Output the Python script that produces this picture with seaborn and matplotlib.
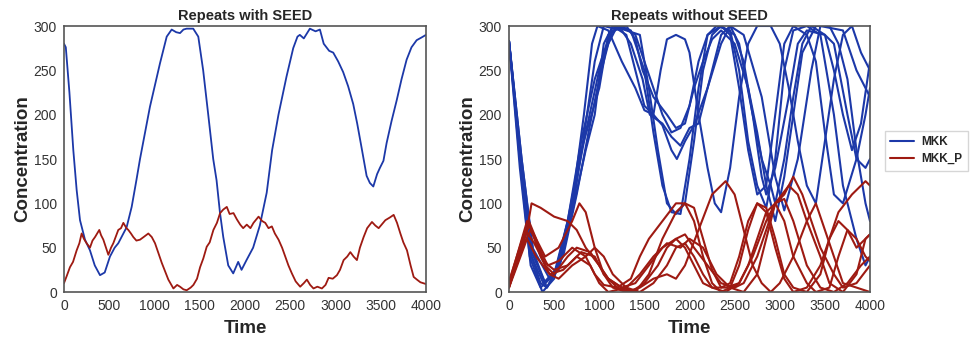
import matplotlib
matplotlib.use("Agg")
import matplotlib.pyplot as plt
from matplotlib.lines import Line2D
import seaborn as sns
import pandas as pd

# (time, concentration) pairs
seed_mkk = [(0, 280), (20, 276), (60, 225), (103, 160), (140, 115), (177, 81), (232, 59),
            (287, 47), (340, 30), (398, 19), (450, 22), (508, 40), (560, 50), (600, 55),
            (692, 73), (748, 96), (800, 126), (840, 150), (950, 209), (1061, 258), (1135, 288),
            (1190, 296), (1240, 293), (1282, 292), (1320, 296), (1355, 297), (1428, 297),
            (1484, 288), (1538, 250), (1594, 200), (1649, 150), (1686, 126), (1723, 90),
            (1760, 62), (1815, 30), (1870, 21), (1925, 34), (1962, 25), (2017, 36), (2090, 50),
            (2164, 75), (2240, 112), (2300, 160), (2370, 200), (2459, 243), (2533, 275),
            (2580, 288), (2606, 290), (2650, 286), (2717, 297), (2780, 294), (2828, 296),
            (2870, 280), (2930, 272), (2975, 270), (3030, 260), (3085, 248), (3140, 232),
            (3196, 212), (3240, 190), (3288, 163), (3344, 131), (3380, 123), (3418, 119),
            (3460, 133), (3491, 140), (3530, 148), (3565, 168), (3620, 193), (3676, 216),
            (3730, 240), (3786, 262), (3840, 276), (3897, 284), (3950, 287), (4000, 290)]

seed_mkk_p = [(0, 10), (30, 18), (66, 28), (100, 34), (140, 47), (170, 55), (195, 66), (220, 60),
              (250, 55), (287, 50), (315, 58), (343, 62), (390, 70), (410, 64), (435, 59),
              (490, 42), (520, 50), (545, 55), (600, 70), (630, 72), (656, 78), (690, 72),
              (711, 70), (740, 66), (766, 62), (800, 58), (840, 59), (880, 62), (932, 66),
              (970, 62), (1006, 55), (1080, 33), (1153, 14), (1209, 4), (1250, 8), (1282, 6),
              (1320, 3), (1356, 2), (1400, 5), (1430, 8), (1470, 15), (1504, 28), (1540, 38),
              (1577, 51), (1610, 56), (1651, 70), (1690, 78), (1725, 89), (1760, 93), (1799, 96),
              (1830, 88), (1873, 89), (1910, 82), (1947, 76), (1980, 72), (2020, 76), (2060, 72),
              (2094, 78), (2150, 85), (2190, 80), (2224, 78), (2260, 72), (2297, 74), (2330, 66),
              (2371, 59), (2410, 50), (2445, 40), (2480, 30), (2518, 21), (2560, 12), (2610, 6),
              (2650, 10), (2684, 14), (2720, 8), (2757, 4), (2800, 6), (2850, 4), (2890, 8),
              (2924, 16), (2970, 15), (3016, 19), (3050, 25), (3090, 36), (3130, 40), (3164, 45),
              (3200, 40), (3237, 36), (3270, 50), (3311, 62), (3350, 72), (3403, 79), (3440, 75),
              (3477, 72), (3510, 76), (3551, 81), (3600, 84), (3643, 87), (3680, 78), (3717, 66),
              (3750, 56), (3790, 47), (3830, 30), (3864, 17), (3900, 14), (3938, 11), (4000, 9)]

# right panel: seven repeats, (time, concentration) pairs
rep_mkk = [
    [(0, 283), (130, 150), (250, 40), (350, 10), (420, 5), (550, 30), (700, 100), (830, 200),
     (920, 280), (980, 300), (1100, 295), (1250, 260), (1400, 230), (1500, 205), (1600, 200),
     (1700, 188), (1800, 160), (1860, 150), (1950, 170), (2050, 188), (2200, 230), (2350, 280),
     (2450, 300), (2600, 290), (2800, 220), (2950, 130), (3050, 92), (3200, 150), (3350, 250),
     (3450, 300), (3700, 295), (3850, 250), (4000, 220)],
    [(0, 283), (120, 160), (250, 45), (400, 10), (550, 25), (700, 90), (850, 190), (950, 260),
     (1050, 300), (1250, 295), (1350, 280), (1480, 240), (1560, 200), (1700, 190), (1800, 175),
     (1900, 165), (2000, 185), (2100, 190), (2250, 250), (2350, 290), (2450, 300), (2550, 280),
     (2700, 200), (2800, 130), (2850, 110), (2950, 140), (3100, 220), (3200, 280), (3300, 295),
     (3500, 290), (3600, 280), (3750, 200), (3850, 150), (3950, 140), (4000, 150)],
    [(0, 283), (140, 150), (260, 50), (450, 15), (600, 40), (750, 110), (900, 190), (1000, 240),
     (1100, 280), (1200, 300), (1350, 295), (1500, 250), (1600, 180), (1700, 120), (1800, 90),
     (1900, 88), (2000, 150), (2100, 230), (2200, 290), (2300, 300), (2450, 295), (2550, 250),
     (2650, 170), (2750, 120), (2850, 95), (2950, 150), (3050, 250), (3150, 295), (3300, 300),
     (3450, 290), (3600, 200), (3700, 120), (3850, 60), (3950, 30), (4000, 40)],
    [(0, 283), (120, 140), (240, 30), (350, 5), (500, 20), (650, 80), (800, 170), (950, 240),
     (1050, 270), (1150, 300), (1300, 290), (1400, 250), (1500, 210), (1600, 200), (1680, 250),
     (1750, 285), (1850, 290), (1950, 285), (2000, 270), (2100, 200), (2200, 140), (2280, 100),
     (2350, 90), (2450, 140), (2550, 220), (2650, 280), (2750, 300), (2900, 300), (3000, 280),
     (3100, 230), (3200, 170), (3300, 120), (3400, 100), (3500, 170), (3600, 240), (3700, 290),
     (3800, 300), (3900, 270), (4000, 250)],
    [(0, 283), (130, 150), (250, 40), (380, 10), (520, 25), (680, 90), (850, 180), (1000, 250),
     (1150, 295), (1300, 300), (1400, 285), (1480, 250), (1600, 220), (1750, 200), (1850, 185),
     (1950, 190), (2050, 230), (2150, 260), (2250, 285), (2350, 295), (2500, 280), (2650, 230),
     (2750, 180), (2850, 120), (2950, 80), (3050, 130), (3150, 200), (3250, 270), (3400, 300),
     (3550, 300), (3650, 280), (3750, 240), (3850, 160), (3950, 100), (4000, 80)],
    [(0, 283), (110, 160), (230, 40), (370, 0), (500, 15), (650, 80), (800, 160), (1000, 230),
     (1100, 290), (1250, 300), (1400, 290), (1500, 260), (1600, 230), (1700, 200), (1800, 180),
     (1900, 185), (2000, 210), (2100, 260), (2200, 290), (2350, 300), (2500, 290), (2600, 260),
     (2700, 200), (2800, 150), (2900, 120), (2950, 100), (3050, 150), (3150, 220), (3250, 280),
     (3350, 300), (3500, 290), (3600, 250), (3700, 200), (3800, 160), (3900, 190), (4000, 260)],
    [(0, 283), (140, 150), (270, 45), (420, 5), (560, 30), (700, 90), (850, 160), (950, 200),
     (1050, 280), (1150, 300), (1300, 295), (1450, 290), (1550, 230), (1650, 160), (1750, 100),
     (1850, 88), (1950, 100), (2050, 170), (2150, 250), (2250, 290), (2350, 300), (2450, 290),
     (2550, 230), (2650, 160), (2750, 110), (2850, 120), (2950, 200), (3050, 280), (3150, 300),
     (3300, 290), (3400, 260), (3500, 180), (3600, 110), (3700, 100), (3850, 150), (3950, 200),
     (4000, 230)],
]

rep_mkk_p = [
    [(0, 5), (150, 60), (230, 75), (350, 40), (450, 20), (600, 25), (750, 40), (900, 30),
     (1000, 10), (1100, 0), (1300, 5), (1450, 20), (1600, 40), (1750, 55), (1900, 50), (2000, 60),
     (2150, 50), (2300, 20), (2450, 5), (2600, 0), (2750, 20), (2850, 60), (2950, 100),
     (3050, 105), (3150, 80), (3300, 30), (3450, 5), (3600, 0), (3750, 10), (3900, 30), (4000, 40)],
    [(0, 10), (200, 80), (300, 60), (400, 30), (500, 20), (650, 40), (750, 50), (900, 45),
     (1000, 30), (1100, 15), (1250, 5), (1400, 10), (1550, 30), (1700, 50), (1850, 60), (1950, 65),
     (2050, 50), (2200, 30), (2350, 10), (2500, 5), (2600, 10), (2750, 40), (2850, 70), (2950, 100),
     (3050, 110), (3150, 130), (3250, 110), (3350, 80), (3450, 50), (3600, 20), (3700, 5),
     (3850, 10), (4000, 30)],
    [(0, 5), (200, 70), (250, 100), (350, 95), (500, 85), (650, 80), (750, 70), (850, 50),
     (1000, 30), (1100, 15), (1250, 5), (1400, 0), (1550, 20), (1700, 60), (1850, 90), (1950, 100),
     (2050, 95), (2150, 60), (2250, 25), (2350, 5), (2450, 10), (2550, 40), (2650, 80), (2750, 100),
     (2850, 95), (2950, 60), (3050, 20), (3150, 5), (3300, 0), (3450, 20), (3550, 60), (3650, 90),
     (3800, 110), (3950, 125), (4000, 120)],
    [(0, 8), (150, 50), (220, 80), (300, 60), (400, 40), (550, 50), (700, 80), (780, 100),
     (850, 90), (950, 50), (1050, 20), (1150, 5), (1300, 0), (1450, 5), (1600, 15), (1750, 20),
     (1850, 15), (1950, 30), (2100, 70), (2250, 110), (2400, 125), (2500, 110), (2600, 70),
     (2700, 30), (2800, 10), (2900, 0), (3000, 10), (3150, 40), (3300, 80), (3400, 100),
     (3500, 70), (3600, 40), (3700, 10), (3850, 5), (4000, 0)],
    [(0, 5), (200, 60), (300, 40), (450, 20), (550, 15), (700, 30), (850, 40), (950, 50),
     (1050, 40), (1150, 20), (1300, 5), (1450, 0), (1600, 10), (1750, 30), (1850, 50), (1950, 55),
     (2050, 40), (2150, 20), (2250, 5), (2400, 0), (2550, 10), (2700, 40), (2850, 80), (2950, 100),
     (3100, 120), (3200, 110), (3300, 80), (3450, 40), (3550, 10), (3700, 0), (3850, 20),
     (3950, 60), (4000, 65)],
    [(0, 12), (180, 70), (280, 55), (380, 35), (500, 25), (650, 30), (800, 45), (950, 40),
     (1050, 20), (1200, 5), (1350, 0), (1500, 10), (1650, 30), (1750, 50), (1850, 60), (1950, 50),
     (2050, 30), (2150, 10), (2250, 5), (2400, 5), (2550, 10), (2650, 30), (2750, 60), (2850, 90),
     (2950, 100), (3050, 80), (3150, 40), (3300, 10), (3400, 0), (3550, 5), (3650, 40),
     (3750, 70), (3850, 60), (3950, 40), (4000, 35)],
    [(0, 6), (170, 55), (240, 70), (330, 50), (430, 30), (550, 35), (700, 50), (850, 40),
     (950, 20), (1050, 8), (1200, 5), (1350, 15), (1450, 40), (1550, 60), (1700, 80), (1850, 100),
     (1950, 100), (2050, 80), (2150, 40), (2250, 10), (2350, 0), (2450, 5), (2550, 30), (2650, 70),
     (2750, 100), (2850, 90), (2950, 50), (3050, 15), (3150, 0), (3300, 5), (3450, 30),
     (3550, 60), (3650, 80), (3750, 70), (3850, 50), (3950, 60), (4000, 65)],
]


def to_frame(curves, species):
    rows = []
    for i, curve in enumerate(curves):
        for t, c in curve:
            rows.append({"Time": t, "Concentration": c, "species": species, "repeat": i})
    return pd.DataFrame(rows)


df_seed = pd.concat([to_frame([seed_mkk], "MKK"), to_frame([seed_mkk_p], "MKK_P")], ignore_index=True)
df_rep = pd.concat([to_frame(rep_mkk, "MKK"), to_frame(rep_mkk_p, "MKK_P")], ignore_index=True)

sns.set_theme(style="white")
plt.rcParams["font.family"] = ["Liberation Sans", "DejaVu Sans"]

palette = {"MKK": "#1c38a8", "MKK_P": "#9e1a12"}

fig = plt.figure(figsize=(9.71, 3.39), dpi=100)
ax1 = fig.add_axes([0.0659, 0.1386, 0.3728, 0.7847])
ax2 = fig.add_axes([0.5242, 0.1386, 0.3718, 0.7847])

for ax, df, title, lw in [(ax1, df_seed, "Repeats with SEED", 1.3),
                          (ax2, df_rep, "Repeats without SEED", 1.5)]:
    sns.lineplot(data=df, x="Time", y="Concentration", hue="species", units="repeat",
                 estimator=None, palette=palette, lw=lw, ax=ax, legend=False, sort=False)
    ax.set_xlim(0, 4000)
    ax.set_ylim(0, 300)
    ax.set_xticks(range(0, 4001, 500))
    ax.set_yticks(range(0, 301, 50))
    ax.set_title(title, fontsize=10.5, fontweight="bold", pad=4)
    ax.set_xlabel("Time", fontsize=13.5, fontweight="bold", labelpad=5)
    ax.set_ylabel("Concentration", fontsize=13.5, fontweight="bold", labelpad=2)
    ax.tick_params(labelsize=10, colors="#333333", length=0, pad=5)
    for s in ax.spines.values():
        s.set_color("#555555")
        s.set_linewidth(1.2)

handles = [Line2D([], [], color=palette["MKK"], lw=1.5), Line2D([], [], color=palette["MKK_P"], lw=1.5)]
leg = fig.legend(handles, ["MKK", "MKK_P"], loc="center left", bbox_to_anchor=(0.911, 0.555),
                 prop={"weight": "bold", "size": 8.5}, frameon=True, fancybox=False,
                 edgecolor="#cccccc", handlelength=2.0, handletextpad=0.6,
                 borderpad=0.5, borderaxespad=0, labelspacing=0.4)

fig.savefig("out.png", dpi=100)
